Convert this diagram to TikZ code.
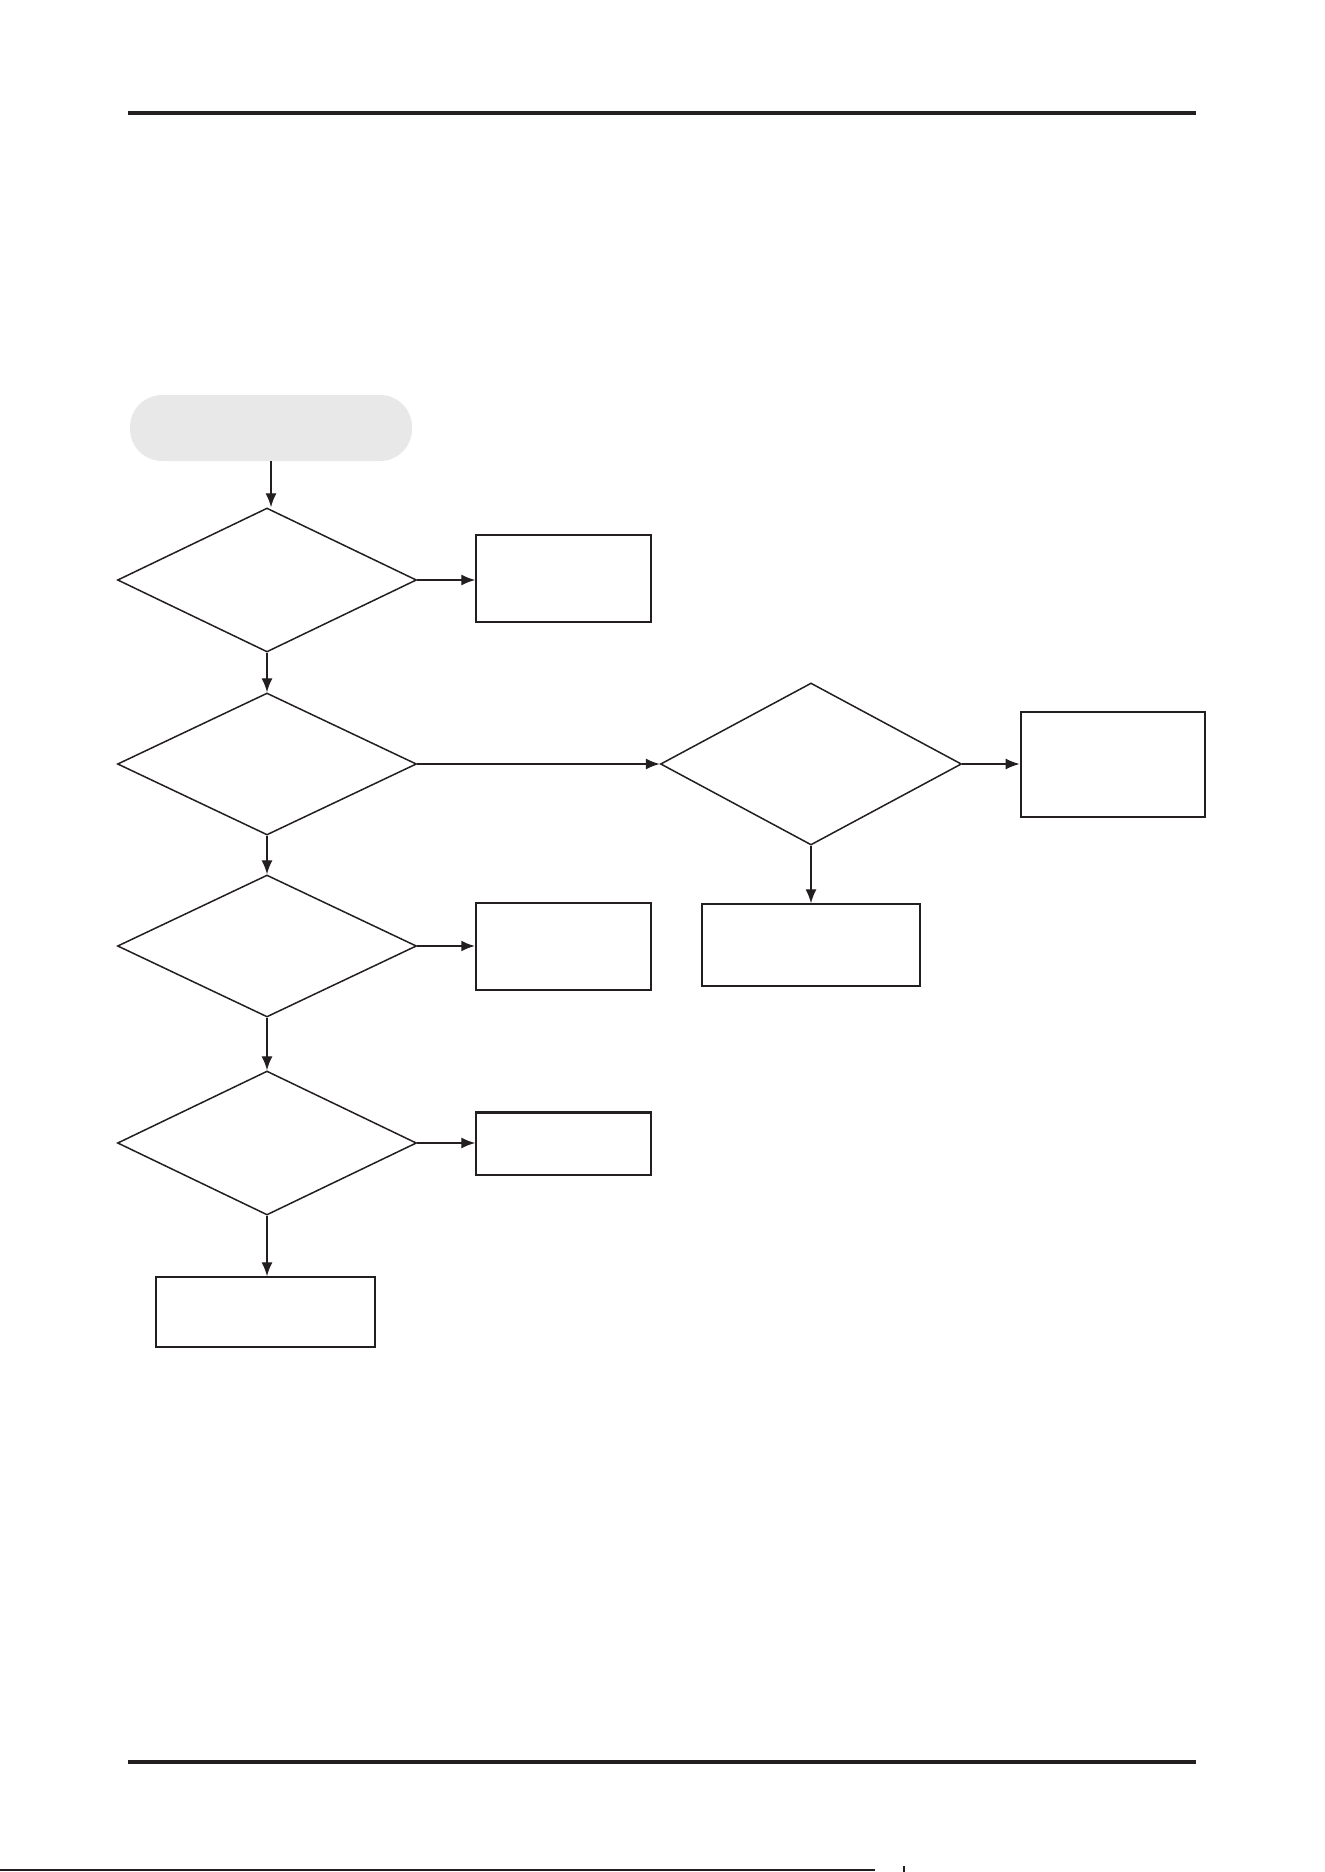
\documentclass[tikz,border=0pt]{standalone}
\usetikzlibrary{shapes.geometric,arrows.meta}
\definecolor{ink}{HTML}{231F20}
\definecolor{startgrey}{HTML}{E8E8E8}
\begin{document}
\begin{tikzpicture}[x=0.5pt,y=-0.5pt,
  dia/.style={diamond,draw=ink,line width=0.75pt,inner sep=0pt,minimum width=#1},
  boxn/.style={rectangle,draw=ink,line width=0.75pt,inner sep=0pt},
  arr/.style={draw=ink,line width=0.7pt,-{Latex[length=7pt,width=5.5pt]}},
  rule/.style={draw=ink,line width=1.8pt}
]
\useasboundingbox (0,0) rectangle (1324,1872);
% header/footer rules
\coordinate (tl) at (128,113); \coordinate (tr) at (1196,113);
\coordinate (bl) at (128,1762); \coordinate (br) at (1196,1762);
\draw[rule] (tl) -- (tr);
\draw[rule] (bl) -- (br);
\coordinate (el) at (0,1870); \coordinate (er) at (875,1870);
\draw[ink,line width=0.6pt] (el) -- (er);
\coordinate (tk1) at (904,1866); \coordinate (tk2) at (904,1872);
\draw[ink,line width=1pt] (tk1) -- (tk2);
% start
\node[fill=startgrey,rounded corners=16pt,minimum width=141pt,minimum height=33pt,inner sep=0pt] (start) at (271,428) {};
% diamonds
\node[dia=149.5pt,minimum height=72pt] (d1) at (267,580) {};
\node[dia=149.5pt,minimum height=71pt] (d2) at (267,764) {};
\node[dia=150.5pt,minimum height=81pt] (d3) at (811,764) {};
\node[dia=149.5pt,minimum height=71pt] (d4) at (267,946) {};
\node[dia=149.5pt,minimum height=72pt] (d5) at (267,1143) {};
% boxes
\node[boxn,minimum width=87.5pt,minimum height=43.5pt] (ba) at (563.5,578.5) {};
\node[boxn,line width=1.4pt,minimum width=92pt,minimum height=52.5pt] (bb) at (1113,764.5) {};
\node[boxn,minimum width=109pt,minimum height=41pt] (bc) at (811,945) {};
\node[boxn,minimum width=87.5pt,minimum height=43.5pt] (bd) at (563.5,946.5) {};
\node[boxn,minimum width=87.5pt,minimum height=31pt] (be) at (563.5,1144) {};
\node[boxn,minimum width=109.5pt,minimum height=35pt] (bf) at (265.5,1312) {};
\draw[ink,line width=1.2pt] (be.north west) -- (be.north east);
% connectors
\draw[arr] (start.south) -- (start.south |- d1.north);
\draw[arr] (d1.east) -- (ba.west |- d1.east);
\draw[arr] (d1.south) -- (d2.north);
\draw[arr] (d2.east) -- (d3.west);
\draw[arr] (d3.east) -- (bb.west |- d3.east);
\draw[arr] (d3.south) -- (bc.north -| d3.south);
\draw[arr] (d2.south) -- (d4.north);
\draw[arr,line width=1.2pt] (d4.east) -- (bd.west |- d4.east);
\draw[arr] (d4.south) -- (d5.north);
\draw[arr] (d5.east) -- (be.west |- d5.east);
\draw[arr] (d5.south) -- (bf.north -| d5.south);
\end{tikzpicture}
\end{document}
